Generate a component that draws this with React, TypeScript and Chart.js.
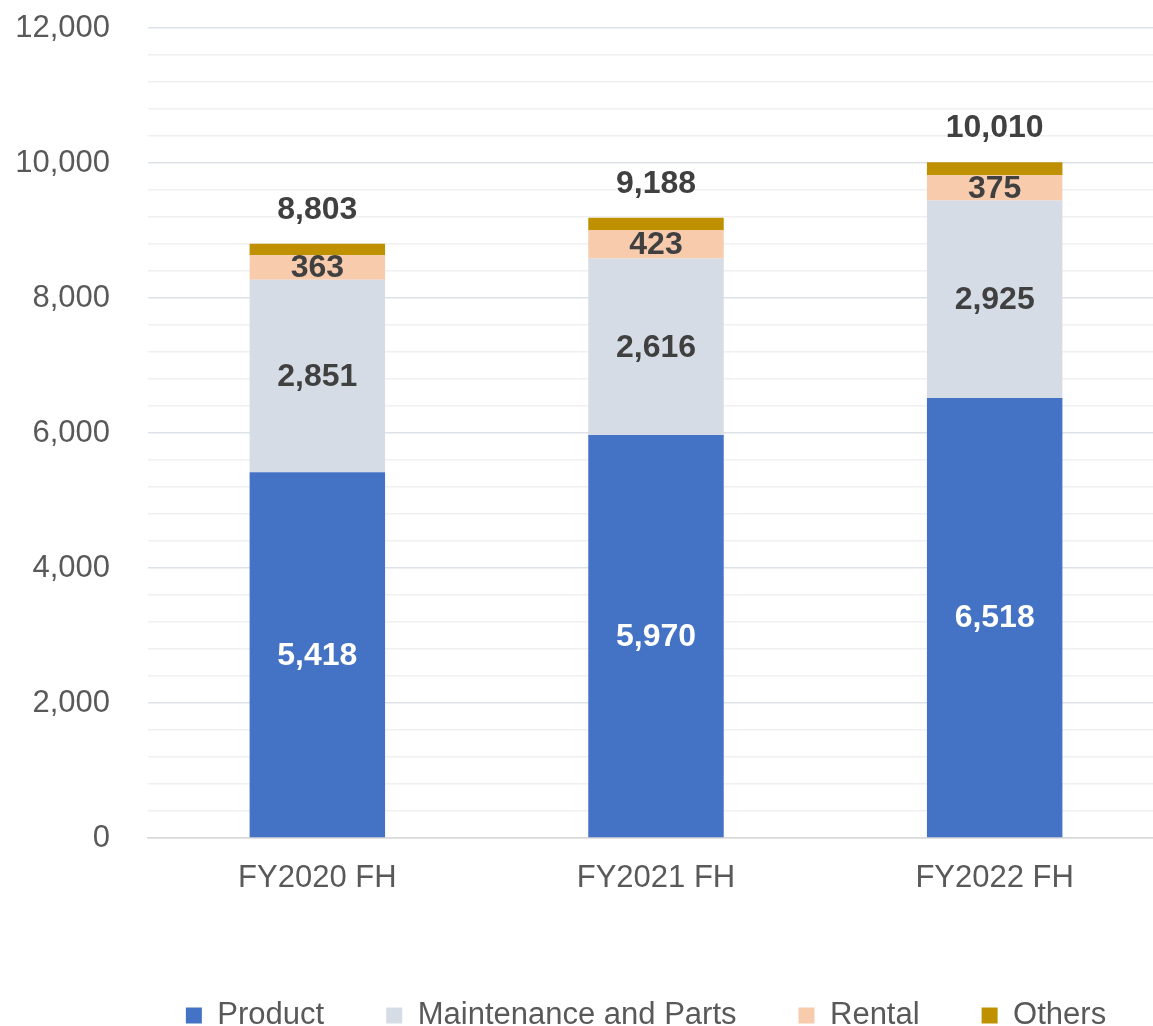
import React, { useEffect, useRef } from "react";
import { Chart, registerables } from "chart.js";

Chart.register(...registerables);

const categories = ["FY2020 FH", "FY2021 FH", "FY2022 FH"];
const product = [5418, 5970, 6518];
const maintenance = [2851, 2616, 2925];
const rental = [363, 423, 375];
const others = [171, 179, 192];
const totals = [8803, 9188, 10010];

const FONT = "'Liberation Sans', Arial, sans-serif";
const GRAY = "#595959";
const DARK = "#404040";

const fmt = (v: number) => v.toLocaleString("en-US");

const labelPlugin = {
  id: "segLabels",
  afterDatasetsDraw(chart: any) {
    const ctx = chart.ctx;
    ctx.save();
    ctx.font = `bold 32px ${FONT}`;
    ctx.textAlign = "center";
    ctx.textBaseline = "middle";
    [0, 1, 2].forEach((di) => {
      const meta = chart.getDatasetMeta(di);
      meta.data.forEach((bar: any, i: number) => {
        const v = chart.data.datasets[di].data[i] as number;
        const y = (bar.y + bar.base) / 2;
        ctx.fillStyle = di === 0 ? "#FFFFFF" : DARK;
        ctx.fillText(fmt(v), bar.x, y + 1);
      });
    });
    const topMeta = chart.getDatasetMeta(3);
    topMeta.data.forEach((bar: any, i: number) => {
      ctx.fillStyle = DARK;
      ctx.fillText(fmt(totals[i]), bar.x, bar.y - 34);
    });
    ctx.restore();
  },
};

const legendPlugin = {
  id: "legendFit",
  afterInit(chart: any) {
    const lg = chart.legend;
    if (!lg) return;
    const orig = lg.fit;
    lg.fit = function () {
      orig.call(this);
      this.height = 88;
    };
  },
  beforeDraw(chart: any) {
    const lg = chart.legend;
    if (!lg) return;
    const d = 57;
    if (!lg._shifted) {
      lg.left += d;
      lg.right += d;
      lg._shifted = true;
    }
  },
  afterLayout(chart: any) {
    if (chart.legend) chart.legend._shifted = false;
  },
};

export default function App() {
  const ref = useRef<HTMLCanvasElement | null>(null);
  useEffect(() => {
    if (!ref.current) return;
    const chart = new Chart(ref.current, {
      type: "bar",
      data: {
        labels: categories,
        datasets: [
          { label: "Product", data: product, backgroundColor: "#4472C4" },
          { label: "Maintenance and Parts", data: maintenance, backgroundColor: "#D6DCE5" },
          { label: "Rental", data: rental, backgroundColor: "#F8CBAD" },
          { label: "Others", data: others, backgroundColor: "#BF9000" },
        ],
      },
      options: {
        animation: false,
        responsive: true,
        maintainAspectRatio: false,
        layout: { padding: { top: 28, left: 14, right: 0, bottom: 0 } },
        datasets: { bar: { categoryPercentage: 1, barPercentage: 0.4 } } as any,
        plugins: {
          tooltip: { enabled: false },
          legend: {
            position: "bottom",
            labels: {
              boxWidth: 16,
              boxHeight: 16,
              padding: 62,
              color: GRAY,
              font: { size: 31, family: FONT },
            },
          },
        },
        scales: {
          x: {
            stacked: true,
            grid: { display: false, drawTicks: false },
            border: { display: true, color: "#D9D9D9", width: 1.5 },
            ticks: { color: GRAY, font: { size: 31, family: FONT }, padding: 22 },
            afterFit: (s: any) => {
              s.height = 100;
              s.paddingLeft = 0;
              s.paddingRight = 0;
            },
          },
          y: {
            stacked: true,
            min: 0,
            max: 12000,
            border: { display: false },
            grid: {
              drawTicks: false,
              lineWidth: 1.5,
              color: (c: any) => {
                const v = c.tick ? c.tick.value : 0;
                if (v === 0) return "#D9D9D9";
                return v % 2000 === 0 ? "#DDE1E8" : "#F0F0F0";
              },
            },
            ticks: {
              stepSize: 400,
              autoSkip: false,
              padding: 38,
              color: GRAY,
              font: { size: 31, family: FONT },
              callback: (v: any) => (Number(v) % 2000 === 0 ? fmt(Number(v)) : ""),
            },
            afterFit: (s: any) => {
              s.width = 134;
              s.paddingTop = 0;
              s.paddingBottom = 0;
            },
          },
        },
      },
      plugins: [labelPlugin, legendPlugin],
    });
    return () => chart.destroy();
  }, []);
  return (
    <div style={{ position: "fixed", left: 0, top: 0, width: 1153, height: 1026, overflow: "hidden", background: "#fff" }}>
      <div style={{ position: "absolute", left: 0, top: 0, width: 1164, height: 1026 }}>
        <canvas ref={ref} />
      </div>
    </div>
  );
}
